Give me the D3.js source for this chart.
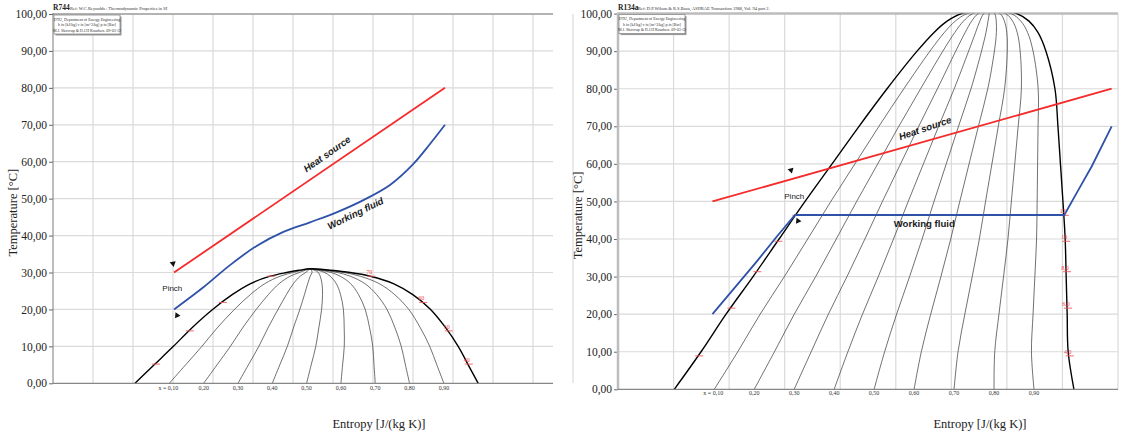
<!DOCTYPE html>
<head>
    <meta charset="utf-8">
    <style>
        body { margin: 0; background: #fff; }
        svg { display: block; background: #fff; }
    </style>
</head>
<body>
    <script src="https://d3js.org/d3.v7.min.js"></script>
    <script>
        // ---- data ----
        var yTicks = d3.range(0, 101, 10);
        var qualities = [0.1, 0.2, 0.3, 0.4, 0.5, 0.6, 0.7, 0.8, 0.9];

        // R744 (left)
        var r744SatT   = [0, 5, 10, 15, 20, 24, 27, 29, 30, 30.6, 31];
        var r744SatLiq = [0.805, 0.853, 0.901, 0.947, 0.999, 1.048, 1.094, 1.143, 1.184, 1.215, 1.243];
        var r744SatVap = [1.663, 1.638, 1.613, 1.582, 1.544, 1.4995, 1.451, 1.393, 1.343, 1.293, 1.243];
        var r744IsobarT = [5.2, 14.2, 21.9, 29.0];
        var r744IsobarLabels = ['40', '50', '60', '70'];
        var r744HeatS = [0.9025, 1.58];
        var r744HeatT = [30, 80];
        var r744FluidS = [0.9025, 0.976, 1.0425, 1.109, 1.176, 1.2425, 1.309, 1.376, 1.4425, 1.501, 1.5425, 1.58];
        var r744FluidT = [20, 26.0, 32.0, 37.2, 41.0, 43.6, 46.3, 49.6, 53.7, 59.4, 64.8, 70];

        // R134a (right)
        var r134SatT   = [0, 10, 20, 30, 40, 50, 60, 70, 80, 90, 95, 98, 100, 101.06];
        var r134SatLiq = [0.8013, 0.8495, 0.8945, 0.9431, 0.9899, 1.0367, 1.0853, 1.1339, 1.1843, 1.2383, 1.2689, 1.2923, 1.3186, 1.3678];
        var r134SatVap = [1.5207, 1.5103, 1.5085, 1.5067, 1.5049, 1.5009, 1.4964, 1.4919, 1.4865, 1.4703, 1.4559, 1.4398, 1.4176, 1.3678];
        var r134IsobarT = [8.9, 21.6, 31.3, 39.4, 46.3];
        var r134IsobarLabels = ['4,0', '6,0', '8,0', '10', '12'];
        var r134HeatS = [0.87, 1.5886];
        var r134HeatT = [50, 80];
        var r134FluidS = [0.87, 0.9496, 0.9856, 1.0186, 1.5033, 1.5285, 1.5526, 1.5886];
        var r134FluidT = [20, 34, 40.6, 46.4, 46.4, 53, 59.3, 70];

        var boxLines = ['DTU, Department of Energy Engineering',
                        'h in [kJ/kg]   v in [m^3/kg]   p in [Bar]',
                        'M.J. Skovrup & H.J.H Knudsen. 09-03-12'];

        var panels = [
            {
                id: 'l', name: 'R744', ref: 'Ref: W.C.Reynolds : Thermodynamic Properties in SI',
                sDomain: [0.6, 1.85], xRange: [53, 553], yRange: [383.3, 14],
                satT: r744SatT, satLiq: r744SatLiq, satVap: r744SatVap,
                isoT: r744IsobarT, isoLab: r744IsobarLabels,
                heatS: r744HeatS, heatT: r744HeatT, fluidS: r744FluidS, fluidT: r744FluidT,
                fluidCurve: d3.curveCatmullRom,
                axisColor: '#7a7a7a', axisWidth: 1,
                heatLabel: { s: 1.285, T: 62.1, rot: -35 },
                fluidLabel: { s: 1.356, T: 46.0, rot: -26, italic: true },
                pinch: { s: 0.8983, T: 25.8 },
                arrows: [{ dx: -1, dy: -9, pt: 'heat', rot: 170 }, { dx: 3, dy: 6, pt: 'fluid', rot: -25 }],
                pinchIdx: 0, qLabelY: 390, titleX: 379, refDx: 17
            },
            {
                id: 'r', name: 'R134a', ref: 'Ref: D.P.Wilson & R.S.Basu, ASHRAE Transaction 1988, Vol. 94 part 2.',
                sDomain: [0.7, 1.6], xRange: [618, 1118], yRange: [389.3, 13.6],
                satT: r134SatT, satLiq: r134SatLiq, satVap: r134SatVap,
                isoT: r134IsobarT, isoLab: r134IsobarLabels,
                heatS: r134HeatS, heatT: r134HeatT, fluidS: r134FluidS, fluidT: r134FluidT,
                fluidCurve: d3.curveLinear,
                axisColor: '#bdbdbd', axisWidth: 2.5,
                heatLabel: { s: 1.2526, T: 69.5, rot: -19 },
                fluidLabel: { s: 1.2513, T: 44.2, rot: 0, italic: false },
                pinch: { s: 1.0173, T: 51.3 },
                arrows: [{ dx: -4, dy: -8, pt: 'heatAt', rot: 165 }, { dx: 3, dy: 6, pt: 'fluid3', rot: -25 }],
                pinchIdx: 3, qLabelY: 395, titleX: 980, refDx: 20
            }
        ];

        var svg = d3.select('body').append('svg')
                    .attr('width', 1123).attr('height', 434)
                    .attr('font-family', 'Liberation Serif');

        var fmt = function(v) { return d3.format('.2f')(v).replace('.', ','); };

        function drawPanel(p) {
            var x = d3.scaleLinear().domain(p.sDomain).range(p.xRange);
            var y = d3.scaleLinear().domain([0, 100]).range(p.yRange);
            var g = svg.append('g');
            var x0 = p.xRange[0], x1 = p.xRange[1], yb = p.yRange[0], yt = p.yRange[1];

            // grid
            var vg = d3.range(1, Math.round((p.sDomain[1] - p.sDomain[0]) * 10) + 1)
                       .map(function(k) { return p.sDomain[0] + k * 0.1; });
            g.selectAll('.vg').data(vg).enter().append('line')
             .attr('x1', function(d) { return x(d); }).attr('x2', function(d) { return x(d); })
             .attr('y1', yb).attr('y2', yt)
             .attr('stroke', '#dadada').attr('stroke-width', 1.2);
            g.selectAll('.hg').data(yTicks.slice(1)).enter().append('line')
             .attr('x1', x0).attr('x2', x1)
             .attr('y1', function(d) { return y(d); }).attr('y2', function(d) { return y(d); })
             .attr('stroke', '#dadada').attr('stroke-width', 1.2);

            // top border
            g.append('line').attr('x1', x0).attr('x2', x1).attr('y1', yt).attr('y2', yt)
             .attr('stroke', p.axisColor).attr('stroke-width', p.axisWidth);

            var clipId = 'clip-' + p.id;
            svg.append('clipPath').attr('id', clipId).append('rect')
               .attr('x', x0).attr('y', yt).attr('width', x1 - x0).attr('height', yb - yt);
            var pg = g.append('g').attr('clip-path', 'url(#' + clipId + ')');

            var line = d3.line().x(function(d) { return x(d[0]); }).y(function(d) { return y(d[1]); });

            // quality lines
            qualities.forEach(function(q) {
                var pts = p.satT.map(function(t, i) {
                    return [p.satLiq[i] + q * (p.satVap[i] - p.satLiq[i]), t];
                });
                pg.append('path').attr('d', line.curve(d3.curveCatmullRom)(pts))
                  .attr('fill', 'none').attr('stroke', '#333').attr('stroke-width', 0.7);
            });

            // saturation dome
            var dome = p.satT.map(function(t, i) { return [p.satLiq[i], t]; })
                .concat(p.satT.slice(0, -1).map(function(t, i) { return [p.satVap[i], t]; }).reverse());
            pg.append('path').attr('d', line.curve(d3.curveCatmullRom)(dome))
              .attr('fill', 'none').attr('stroke', '#000').attr('stroke-width', 1.4);

            // isobar marks
            var liqAt = d3.scaleLinear().domain(p.satT).range(p.satLiq);
            var vapAt = d3.scaleLinear().domain(p.satT).range(p.satVap);
            p.isoT.forEach(function(t, i) {
                [liqAt(t), vapAt(t)].forEach(function(s) {
                    pg.append('line').attr('x1', x(s) - 3).attr('x2', x(s) + 5)
                      .attr('y1', y(t)).attr('y2', y(t))
                      .attr('stroke', '#f35a5a').attr('stroke-width', 0.9);
                });
                g.append('text').attr('x', x(vapAt(t)) - 1).attr('y', y(t) - 2)
                 .attr('text-anchor', 'middle')
                 .attr('font-family', 'Liberation Serif').attr('font-size', 6)
                 .attr('fill', '#f04848').text(p.isoLab[i]);
            });

            // quality labels along the 0 °C line
            qualities.forEach(function(q, i) {
                var s0 = p.satLiq[0] + q * (p.satVap[0] - p.satLiq[0]);
                g.append('text').attr('x', x(s0)).attr('y', p.qLabelY)
                 .attr('text-anchor', i === 0 ? 'end' : 'middle')
                 .attr('dx', i === 0 ? 9 : 0)
                 .attr('font-family', 'Liberation Serif').attr('font-size', 6)
                 .attr('fill', '#333').text(i === 0 ? 'x = ' + fmt(q) : fmt(q));
            });

            // heat source & working fluid
            var heat = p.heatS.map(function(s, i) { return [s, p.heatT[i]]; });
            var fluid = p.fluidS.map(function(s, i) { return [s, p.fluidT[i]]; });
            pg.append('path').attr('d', line.curve(d3.curveLinear)(heat))
              .attr('fill', 'none').attr('stroke', '#f52a2a').attr('stroke-width', 1.8);
            pg.append('path').attr('d', line.curve(p.fluidCurve)(fluid))
              .attr('fill', 'none').attr('stroke', '#2f52a8').attr('stroke-width', 1.8);

            // axes
            var ax = g.append('g').attr('transform', 'translate(' + x0 + ',0)')
                      .call(d3.axisLeft(y).tickValues(yTicks).tickFormat(fmt).tickSize(4).tickPadding(2));
            ax.attr('font-family', 'Liberation Serif').attr('font-size', 11.5);
            ax.select('.domain').remove();
            ax.selectAll('.tick line').attr('stroke', '#666');
            ax.selectAll('.tick text').attr('fill', '#222');
            g.append('line').attr('x1', x0).attr('x2', x0).attr('y1', yt - 1).attr('y2', yb)
             .attr('stroke', p.axisColor).attr('stroke-width', p.axisWidth);
            g.append('line').attr('x1', x0).attr('x2', x1).attr('y1', yb).attr('y2', yb)
             .attr('stroke', '#6a6a6a').attr('stroke-width', 1);

            // axis titles
            var midY = (yb + yt) / 2;
            g.append('text')
             .attr('transform', 'translate(' + (x0 - 36) + ',' + (midY + 14) + ') rotate(-90)')
             .attr('text-anchor', 'middle')
             .attr('font-family', 'Liberation Serif').attr('font-size', 12.5)
             .attr('fill', '#222').text('Temperature [°C]');
            g.append('text').attr('x', p.titleX).attr('y', 428)
             .attr('text-anchor', 'middle')
             .attr('font-family', 'Liberation Serif').attr('font-size', 12.5)
             .attr('fill', '#222').text('Entropy [J/(kg K)]');

            // header
            g.append('text').attr('x', x0).attr('y', 10)
             .attr('font-family', 'Liberation Serif').attr('font-size', 7.5)
             .attr('font-weight', 'bold').attr('fill', '#222').text(p.name);
            g.append('text').attr('x', x0 + p.refDx).attr('y', 10)
             .attr('font-family', 'Liberation Serif').attr('font-size', 4.5)
             .attr('fill', '#333').text(p.ref);
            var bx = x0 + 1, by = yt + 1, bw = 66, bh = 19;
            g.append('rect').attr('x', bx + 1.5).attr('y', by + 1.5).attr('width', bw).attr('height', bh)
             .attr('fill', '#9a9a9a');
            g.append('rect').attr('x', bx).attr('y', by).attr('width', bw).attr('height', bh)
             .attr('fill', '#fff').attr('stroke', '#8a8a8a').attr('stroke-width', 0.8);
            g.selectAll('.bl').data(boxLines).enter().append('text')
             .attr('x', bx + bw / 2).attr('y', function(d, i) { return by + 5.5 + i * 5.5; })
             .attr('text-anchor', 'middle')
             .attr('font-family', 'Liberation Serif').attr('font-size', 4)
             .attr('fill', '#333').text(function(d) { return d; });

            // labels
            var lab = function(o, txt, italic) {
                g.append('text')
                 .attr('transform', 'translate(' + x(o.s) + ',' + y(o.T) + ') rotate(' + o.rot + ')')
                 .attr('text-anchor', 'middle').attr('dy', '0.35em')
                 .attr('font-family', 'Liberation Sans').attr('font-size', 9.6)
                 .attr('font-weight', 'bold').attr('font-style', italic ? 'italic' : 'normal')
                 .attr('fill', '#1a1a1a').text(txt);
            };
            lab(p.heatLabel, 'Heat source', true);
            lab(p.fluidLabel, 'Working fluid', p.fluidLabel.italic);
            g.append('text').attr('x', x(p.pinch.s)).attr('y', y(p.pinch.T)).attr('dy', '0.35em')
             .attr('text-anchor', 'middle')
             .attr('font-family', 'Liberation Sans').attr('font-size', 8)
             .attr('fill', '#1a1a1a').text('Pinch');

            // pinch arrows
            var heatStart = [x(p.heatS[0]), y(p.heatT[0])];
            var fluidPt = [x(p.fluidS[p.pinchIdx]), y(p.fluidT[p.pinchIdx])];
            var heatAt = d3.scaleLinear().domain(p.heatS).range(p.heatT);
            var heatPinch = [x(p.fluidS[p.pinchIdx]), y(heatAt(p.fluidS[p.pinchIdx]))];
            p.arrows.forEach(function(a) {
                var base = a.pt === 'heat' ? heatStart : (a.pt === 'heatAt' ? heatPinch : fluidPt);
                g.append('path').attr('d', d3.symbol(d3.symbolTriangle).size(16)())
                 .attr('transform', 'translate(' + (base[0] + a.dx) + ',' + (base[1] + a.dy) + ') rotate(' + a.rot + ')')
                 .attr('fill', '#111');
            });
        }

        panels.forEach(drawPanel);
    </script>
</body>
